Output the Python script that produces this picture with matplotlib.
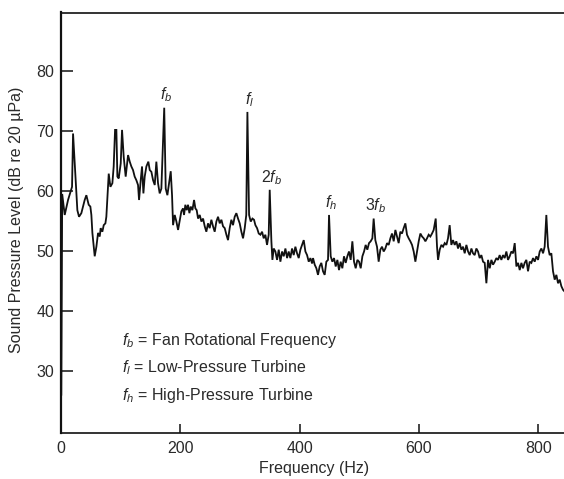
import matplotlib
matplotlib.use("Agg")
import matplotlib.pyplot as plt
import numpy as np

plt.rcParams["font.family"] = ["Liberation Sans", "DejaVu Sans"]
plt.rcParams["mathtext.fontset"] = "custom"
plt.rcParams["mathtext.rm"] = "Liberation Sans"
plt.rcParams["mathtext.it"] = "Liberation Sans:italic"
plt.rcParams["mathtext.bf"] = "Liberation Sans:bold"

# Narrowband spectrum of engine noise
freq = [
    0.5, 2.0, 6.2, 11.8, 18.5, 20.2, 27.4, 30.2, 34.1, 39.7, 42.5, 46.4, 49.2,
    50.9, 52.6, 54.8, 56.5, 59.3, 62.1, 64.9, 66.5, 69.3, 71.6, 74.4, 76.0,
    78.8, 80.0, 82.8, 86.1, 88.3, 90.6, 92.8, 94.5, 96.7, 100.1, 102.3, 105.1,
    108.4, 112.4, 115.2, 117.9, 120.7, 123.5, 126.3, 129.1, 130.8, 133.6,
    135.8, 138.1, 140.3, 143.1, 146.4, 148.7, 151.5, 154.3, 157.1, 159.8,
    162.6, 165.4, 168.2, 173.0, 175.5, 178.3, 183.9, 186.1, 187.8, 190.6,
    193.4, 196.2, 199.5, 201.7, 204.5, 206.2, 208.4, 210.7, 212.9, 215.2,
    217.4, 220.2, 223.0, 225.2, 227.4, 229.7, 232.5, 235.3, 238.1, 240.9,
    243.6, 246.4, 249.2, 252.0, 254.8, 257.6, 260.4, 263.2, 266.0, 268.8,
    271.6, 274.4, 277.2, 279.9, 282.7, 285.5, 288.3, 291.1, 293.9, 296.7,
    299.5, 302.3, 305.1, 307.9, 310.5, 312.4, 315.2, 318.0, 320.8, 323.5,
    325.8, 328.6, 331.4, 334.2, 337.0, 339.7, 342.5, 345.3, 348.1, 349.8,
    352.6, 354.3, 356.5, 359.3, 362.1, 364.9, 367.7, 370.5, 373.3, 376.1,
    378.9, 381.6, 384.4, 387.2, 390.0, 392.8, 395.6, 398.4, 401.2, 404.0,
    406.8, 409.6, 412.4, 415.2, 418.0, 420.8, 422.4, 425.2, 428.0, 430.7,
    433.5, 436.3, 439.1, 441.9, 444.7, 447.5, 449.2, 452.0, 454.8, 457.6,
    460.4, 463.2, 465.9, 468.7, 471.5, 474.3, 477.1, 479.9, 482.7, 485.5,
    488.3, 491.1, 493.9, 496.7, 499.5, 502.3, 505.1, 507.9, 510.6, 513.4,
    516.2, 519.0, 521.8, 524.0, 526.8, 529.6, 532.4, 535.2, 538.0, 540.8,
    543.6, 546.4, 549.2, 552.0, 554.8, 557.6, 560.4, 563.2, 565.9, 568.7,
    571.5, 574.3, 577.1, 579.9, 582.7, 585.5, 588.3, 591.1, 593.9, 596.7,
    599.5, 602.3, 605.1, 607.9, 610.7, 613.4, 616.2, 619.0, 621.8, 624.6,
    628.0, 630.2, 631.9, 634.7, 637.5, 640.3, 643.1, 645.9, 648.6, 651.4,
    654.2, 657.0, 659.8, 662.6, 665.4, 668.2, 671.0, 673.8, 676.6, 679.4,
    682.2, 685.0, 687.8, 690.5, 693.3, 696.1, 698.9, 701.7, 704.5, 707.3,
    710.1, 712.9, 715.7, 718.5, 721.3, 724.1, 726.9, 729.7, 732.4, 735.2,
    738.0, 740.8, 743.6, 746.4, 749.2, 752.0, 754.8, 757.6, 760.4, 763.2,
    766.0, 768.8, 771.6, 774.3, 777.1, 779.9, 782.7, 785.5, 788.3, 791.1,
    793.9, 796.7, 799.5, 802.3, 805.1, 807.9, 810.6, 813.4, 816.2, 819.0,
    821.8, 824.6, 827.4, 830.2, 833.0, 835.8, 838.6, 841.4, 846.0,
]
spl = [
    26.0, 59.5, 56.0, 58.5, 60.7, 69.6, 56.8, 55.7, 56.3, 58.5, 59.3, 57.7, 57.4,
    56.0, 53.0, 50.7, 49.1, 50.7, 53.0, 52.4, 53.8, 53.2, 54.3, 54.6, 55.7,
    60.7, 62.9, 60.7, 61.3, 64.1, 70.2, 70.2, 62.4, 62.1, 64.6, 70.2, 65.7,
    62.4, 66.0, 64.9, 64.1, 63.5, 62.4, 61.8, 61.0, 58.5, 61.8,
    64.1, 59.6, 62.4, 64.1, 64.9, 63.5, 63.2, 61.8, 61.0, 64.9,
    61.3, 59.6, 60.4, 73.9, 60.4, 59.3, 63.3, 59.3, 54.3, 56.0,
    54.9, 53.5, 55.4, 56.6, 57.1, 56.0, 57.7, 56.8, 57.7, 56.3,
    57.4, 56.8, 58.5, 57.1, 56.8, 55.4, 56.0, 54.9, 55.4, 54.1,
    53.2, 54.6, 53.8, 55.2, 54.1, 53.2, 54.9, 55.7, 54.6, 55.2,
    54.1, 53.8, 52.7, 51.8, 53.8, 55.2, 54.3, 55.7, 56.3, 55.4,
    54.6, 53.2, 52.1, 53.8, 56.0, 73.2, 56.0, 54.9, 55.4, 55.2,
    54.3, 53.8, 52.9, 52.7, 53.2, 52.1, 52.7, 51.0, 52.7, 60.2,
    51.6, 48.5, 50.4, 49.9, 48.5, 50.2, 48.2, 49.9, 49.1, 50.4,
    48.8, 49.9, 48.8, 50.4, 49.3, 50.7, 49.6, 48.8, 50.2, 51.0,
    51.8, 49.9, 49.3, 48.2, 48.8, 47.9, 48.8, 47.7, 47.1, 46.0,
    47.4, 48.0, 46.6, 46.0, 48.2, 48.5, 56.0, 49.1, 48.2, 48.8,
    47.4, 48.5, 46.8, 48.2, 47.1, 49.1, 48.0, 49.1, 49.9, 48.5,
    51.6, 48.2, 47.1, 48.5, 48.2, 47.1, 49.1, 49.9, 51.0, 50.2,
    51.3, 51.6, 52.1, 55.4, 51.8, 50.7, 48.2, 50.2, 50.7, 49.9,
    50.4, 51.3, 51.0, 52.1, 52.9, 51.6, 53.5, 52.4, 51.3, 53.2,
    52.9, 53.8, 54.6, 52.7, 52.1, 51.6, 51.0, 49.9, 48.2, 49.9,
    51.6, 52.9, 52.4, 52.1, 51.6, 52.1, 52.7, 52.4, 52.9, 53.5,
    55.4, 50.7, 48.5, 50.2, 51.0, 50.7, 51.3, 51.0, 52.1, 54.3,
    51.0, 51.8, 51.0, 51.6, 50.4, 51.3, 50.2, 50.7, 49.6, 51.0,
    49.9, 49.3, 50.4, 49.6, 49.3, 50.4, 49.9, 48.8, 49.3, 48.2,
    48.0, 44.6, 48.5, 47.1, 48.5, 47.7, 48.2, 48.8, 48.5, 49.3,
    48.5, 49.3, 48.8, 49.9, 48.5, 49.1, 49.9, 49.6, 51.3, 47.4,
    48.0, 46.8, 48.0, 47.1, 48.0, 48.5, 46.6, 48.2, 48.0, 48.8,
    48.2, 49.1, 48.5, 49.9, 50.4, 49.6, 50.7, 56.0, 50.7, 49.3,
    49.6, 46.6, 45.2, 46.0, 44.6, 45.2, 44.1, 43.5, 43.0,
]

# Labelled tonal peaks
peak_names = [r"$f_b$", r"$f_l$", r"$2f_b$", r"$f_h$", r"$3f_b$"]
peak_freqs = [173.0, 312.4, 349.8, 449.2, 524.0]

legend_lines = [
    r"$f_b$ = Fan Rotational Frequency",
    r"$f_l$ = Low-Pressure Turbine",
    r"$f_h$ = High-Pressure Turbine",
]

x_ticks = [0, 200, 400, 600, 800]
y_ticks = [30, 40, 50, 60, 70, 80]

text_color = "#2a2a2a"
fs = 11.5

fig = plt.figure(figsize=(5.64, 4.79), dpi=100)
ax = fig.add_axes([61 / 564, 46 / 479, 1 - 61 / 564, 420.5 / 479])

ax.plot(freq, spl, color="#111111", lw=1.3, solid_joinstyle="miter")

ax.set_xlim(0, 843)
ax.set_ylim(19.6, 89.8)

ax.spines["right"].set_visible(False)
ax.spines["left"].set_linewidth(1.6)
ax.spines["bottom"].set_linewidth(1.2)
ax.spines["top"].set_linewidth(1.2)
for s in ax.spines.values():
    s.set_color("#111111")

ax.set_xticks(x_ticks)
ax.set_yticks(y_ticks)
ax.tick_params(axis="y", direction="in", length=8.6, width=1.1,
               labelsize=fs, pad=5, colors="#111111", labelcolor=text_color)
ax.tick_params(axis="x", direction="in", length=6.5, width=1.1,
               labelsize=fs, pad=6, colors="#111111", labelcolor=text_color)

# Peak labels just above each tone
freq_arr = np.asarray(freq)
spl_arr = np.asarray(spl)
for name, pf in zip(peak_names, peak_freqs):
    idx = int(np.argmin(np.abs(freq_arr - pf)))
    ax.annotate(name, xy=(freq_arr[idx], spl_arr[idx]),
                xytext=(2, 8), textcoords="offset pixels",
                ha="center", va="baseline", fontsize=fs, color=text_color)

legend_y = [0.221, 0.155, 0.088]
for line, yy in zip(legend_lines, legend_y):
    ax.text(0.121, yy, line, transform=ax.transAxes, ha="left", va="center",
            fontsize=fs, color=text_color)

fig.text(17 / 564, 1 - 220 / 479, "Sound Pressure Level (dB re 20 \u00b5Pa)",
         rotation=90, ha="center", va="center", fontsize=fs, color=text_color)
fig.text(314 / 564, 1 - 469 / 479, "Frequency (Hz)", ha="center",
         va="center", fontsize=fs, color=text_color)

fig.savefig("out.png", dpi=100)
